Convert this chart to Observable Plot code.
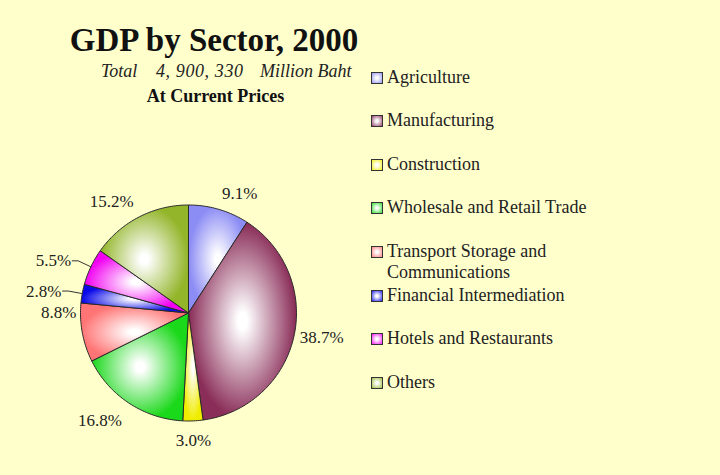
<!DOCTYPE html>
<html>
<head>
<meta charset="utf-8">
<script src="https://cdn.jsdelivr.net/npm/d3@7"></script>
<script src="https://cdn.jsdelivr.net/npm/@observablehq/plot@0.6"></script>
<style>
  html, body { margin: 0; padding: 0; background: #FFFFCC; }
  #wrap { position: relative; width: 720px; height: 475px; overflow: hidden; background: #FFFFCC; font-family: "Liberation Serif", "DejaVu Serif", serif; color: #111; }
  #wrap svg { position: absolute; left: 0; top: 0; }
  .t { position: absolute; white-space: pre; }
  #title { left: 0; width: 428px; top: 20px; text-align: center; font-size: 33px; font-weight: bold; line-height: 40px; }
  .sub { top: 60px; font-size: 18px; font-style: italic; line-height: 22px; color: #222; }
  #sub2 { left: 0; width: 431px; top: 85px; text-align: center; font-size: 18px; font-weight: bold; line-height: 22px; }
  .leg { position: absolute; left: 371px; font-size: 18px; line-height: 21px; color: #222; }
  .leg .box { position: absolute; left: 0; top: 5px; width: 10px; height: 10px; border: 1px solid #333; }
  .leg .lab { position: absolute; left: 16px; top: 0; width: 215px; white-space: normal; }
</style>
</head>
<body>
<div id="wrap">
  <div class="t" id="title">GDP by Sector, 2000</div>
  <div class="t sub" style="left:101px">Total</div>
  <div class="t sub" style="left:156px;letter-spacing:0.6px">4, 900, 330</div>
  <div class="t sub" style="left:260px">Million Baht</div>
  <div class="t" id="sub2">At Current Prices</div>
</div>
<script>
// ---- data ----
const categories = [
  "Agriculture",
  "Manufacturing",
  "Construction",
  "Wholesale and Retail Trade",
  "Transport Storage and Communications",
  "Financial Intermediation",
  "Hotels and Restaurants",
  "Others"
];
const shares = [9.1, 38.7, 3.0, 16.8, 8.8, 2.8, 5.5, 15.2];
const colors = ["#8C8CF5", "#8A2D58", "#F0EC00", "#1AD81A", "#FF7474", "#0808E8", "#F200F2", "#93B52A"];

// ---- layout ----
const W = 720, H = 475, CX = 188, CY = 312.5, R = 108;
const total = d3.sum(shares);
let acc = 0;
const slices = shares.map((v, i) => {
  const a0 = acc / total * 2 * Math.PI;
  acc += v;
  const a1 = acc / total * 2 * Math.PI;
  return {i, key: categories[i], value: v, a0, a1, mid: (a0 + a1) / 2};
});

// wedge outline points (unit = pixels relative to the pie centre)
const wedgePts = [];
for (const s of slices) {
  wedgePts.push({key: s.key, i: s.i, x: 0, y: 0});
  const n = Math.max(2, Math.ceil((s.a1 - s.a0) / (Math.PI / 180)));
  for (let k = 0; k <= n; k++) {
    const a = s.a0 + (s.a1 - s.a0) * k / n;
    wedgePts.push({key: s.key, i: s.i, x: R * Math.sin(a), y: R * Math.cos(a)});
  }
  wedgePts.push({key: s.key, i: s.i, x: 0, y: 0});
}

// labels
const labelNudge = {"Transport Storage and Communications": 21};
const labels = [];
const leaders = [];
for (const s of slices) {
  const sn = Math.sin(s.mid), cs = Math.cos(s.mid);
  const txt = s.value.toFixed(1) + "%";
  if (s.value < 6 && Math.abs(sn) > 0.5) {
    // pulled-out label with leader line
    const ex = R * sn, ey = R * cs;
    const bx = (R + 14) * sn, by = (R + 14) * cs;
    const hx = bx + (sn < 0 ? -6 : 6);
    leaders.push({key: s.key, x: ex, y: ey}, {key: s.key, x: bx, y: by}, {key: s.key, x: hx, y: by});
    labels.push({text: txt, x: hx + (sn < 0 ? -1 : 1), y: by, anchor: sn < 0 ? "end" : "start", line: "middle"});
  } else {
    const g = cs < -0.5 ? 13 : cs > 0.5 ? 11 : 6;
    const px = (R + g) * sn, py = (R + g) * cs + (labelNudge[s.key] || 0);
    const anchor = sn > 0.25 ? "start" : sn < -0.25 ? "end" : "middle";
    const line = cs > 0.25 ? "bottom" : cs < -0.25 ? "top" : "middle";
    labels.push({text: txt, x: px, y: py, anchor, line});
  }
}

const plot = Plot.plot({
  width: W,
  height: H,
  margin: 0,
  style: {background: "transparent", overflow: "visible"},
  x: {domain: [-R, R], range: [CX - R, CX + R], axis: null},
  y: {domain: [-R, R], range: [CY + R, CY - R], axis: null},
  color: {type: "identity"},
  marks: [
    Plot.line(wedgePts, {
      x: "x", y: "y", z: "key",
      fill: d => `url(#slice-grad-${d.i})`,
      stroke: "#2a2a2a", strokeWidth: 1, strokeLinejoin: "round"
    }),
    Plot.line(leaders, {x: "x", y: "y", z: "key", stroke: "#333", strokeWidth: 1}),
    ...["start", "middle", "end"].flatMap(anchor =>
      ["top", "middle", "bottom"].map(line =>
        Plot.text(labels.filter(d => d.anchor === anchor && d.line === line), {
          x: "x", y: "y", text: "text",
          textAnchor: anchor, lineAnchor: line,
          fontFamily: "Liberation Serif", fontSize: 17, fill: "#222"
        })
      )
    )
  ]
});

// gradients for the shaded slices
const svg = d3.select(plot);
const defs = svg.insert("defs", ":first-child");
slices.forEach(s => {
  const g = defs.append("radialGradient").attr("id", `slice-grad-${s.i}`)
    .attr("cx", "50%").attr("cy", "50%").attr("r", "55%");
  g.append("stop").attr("offset", "0%").attr("stop-color", "#ffffff");
  g.append("stop").attr("offset", "8%").attr("stop-color", "#ffffff");
  g.append("stop").attr("offset", "90%").attr("stop-color", colors[s.i]);
});

const wrap = document.getElementById("wrap");
wrap.insertBefore(plot, wrap.firstChild);

// legend
categories.forEach((c, i) => {
  const item = document.createElement("div");
  item.className = "leg";
  item.style.top = (77 + i * 43.6 - 10.5) + "px";
  const box = document.createElement("div");
  box.className = "box";
  box.style.background = `radial-gradient(circle at 50% 50%, #ffffff 0%, #ffffff 15%, ${colors[i]} 110%)`;
  const lab = document.createElement("div");
  lab.className = "lab";
  lab.textContent = c;
  item.appendChild(box);
  item.appendChild(lab);
  wrap.appendChild(item);
});
</script>
</body>
</html>
